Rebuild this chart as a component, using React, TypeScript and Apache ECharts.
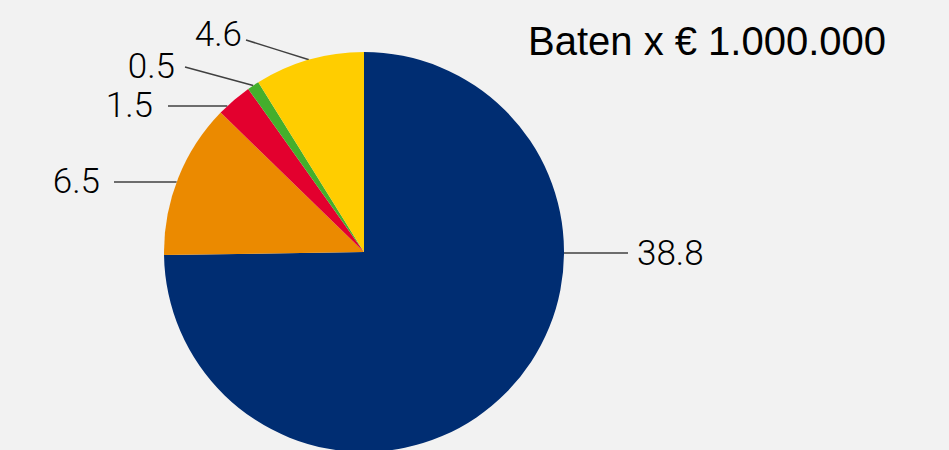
import React, { useEffect, useRef } from "react";
import * as echarts from "echarts";

const categories = ["A", "B", "C", "D", "E"];
const values = [38.8, 6.5, 1.5, 0.5, 4.6];
const labelTexts = ["38.8", "6.5", "1.5", "0.5", "4.6"];
const colors = ["#002D72", "#EB8A00", "#E3002E", "#44AF2C", "#FFCD00"];
const title = "Baten x € 1.000.000";

const CX = 364;
const CY = 252;
const R = 200;

// label placement: [textX, textY, align, lineEndX, lineEndY, horizontal line?]
const labelPlace: [number, number, string, number, number, boolean][] = [
  [637, 253, "left", 628, 253, true],
  [100, 181, "right", 114, 182, true],
  [153, 105, "right", 168, 106, true],
  [175, 66, "right", 185, 67, false],
  [242, 34, "right", 246, 40, false],
];

export default function App() {
  const ref = useRef<HTMLDivElement>(null);
  useEffect(() => {
    document.body.style.margin = "0";
    const chart = echarts.init(ref.current!, undefined, { renderer: "svg" });
    const total = values.reduce((a, b) => a + b, 0);
    const mids: number[] = [];
    let acc = 0;
    values.forEach((v) => {
      mids.push(((acc + v / 2) / total) * 360);
      acc += v;
    });
    chart.setOption({
      animation: false,
      backgroundColor: "#F2F2F2",
      title: {
        text: title,
        left: 523,
        top: 16,
        textStyle: {
          fontFamily: "'Liberation Sans', Arial, sans-serif",
          fontWeight: 400,
          fontSize: 40,
          color: "#000",
        },
      },
      series: [
        {
          type: "pie",
          center: [CX, CY],
          radius: R,
          startAngle: 90,
          clockwise: true,
          data: categories.map((c, i) => ({
            name: c,
            value: values[i],
            itemStyle: { color: colors[i] },
          })),
          label: {
            show: true,
            position: "outside",
            formatter: (p: any) => labelTexts[p.dataIndex],
            fontFamily: "Roboto, 'Liberation Sans', sans-serif",
            fontWeight: 300,
            fontSize: 35,
            color: "#000",
          },
          labelLine: {
            show: true,
            lineStyle: { color: "#404040", width: 1.5 },
          },
          emphasis: { disabled: true },
          labelLayout: (params: any) => {
            const i = params.dataIndex;
            const [tx, ty, align, ex, ey, horiz] = labelPlace[i];
            let sx: number;
            let sy: number;
            if (horiz) {
              const dx = Math.sqrt(R * R - (ey - CY) * (ey - CY));
              sx = ex > CX ? CX + dx : CX - dx;
              sy = ey;
            } else {
              const ang = (mids[i] * Math.PI) / 180;
              sx = CX + R * Math.sin(ang);
              sy = CY - R * Math.cos(ang);
            }
            return {
              x: tx,
              y: ty,
              align,
              verticalAlign: "middle",
              labelLinePoints: [
                [sx, sy],
                [(sx + ex) / 2, (sy + ey) / 2],
                [ex, ey],
              ],
            };
          },
        },
      ],
    });
    return () => chart.dispose();
  }, []);
  return <div ref={ref} style={{ width: 949, height: 450 }} />;
}
